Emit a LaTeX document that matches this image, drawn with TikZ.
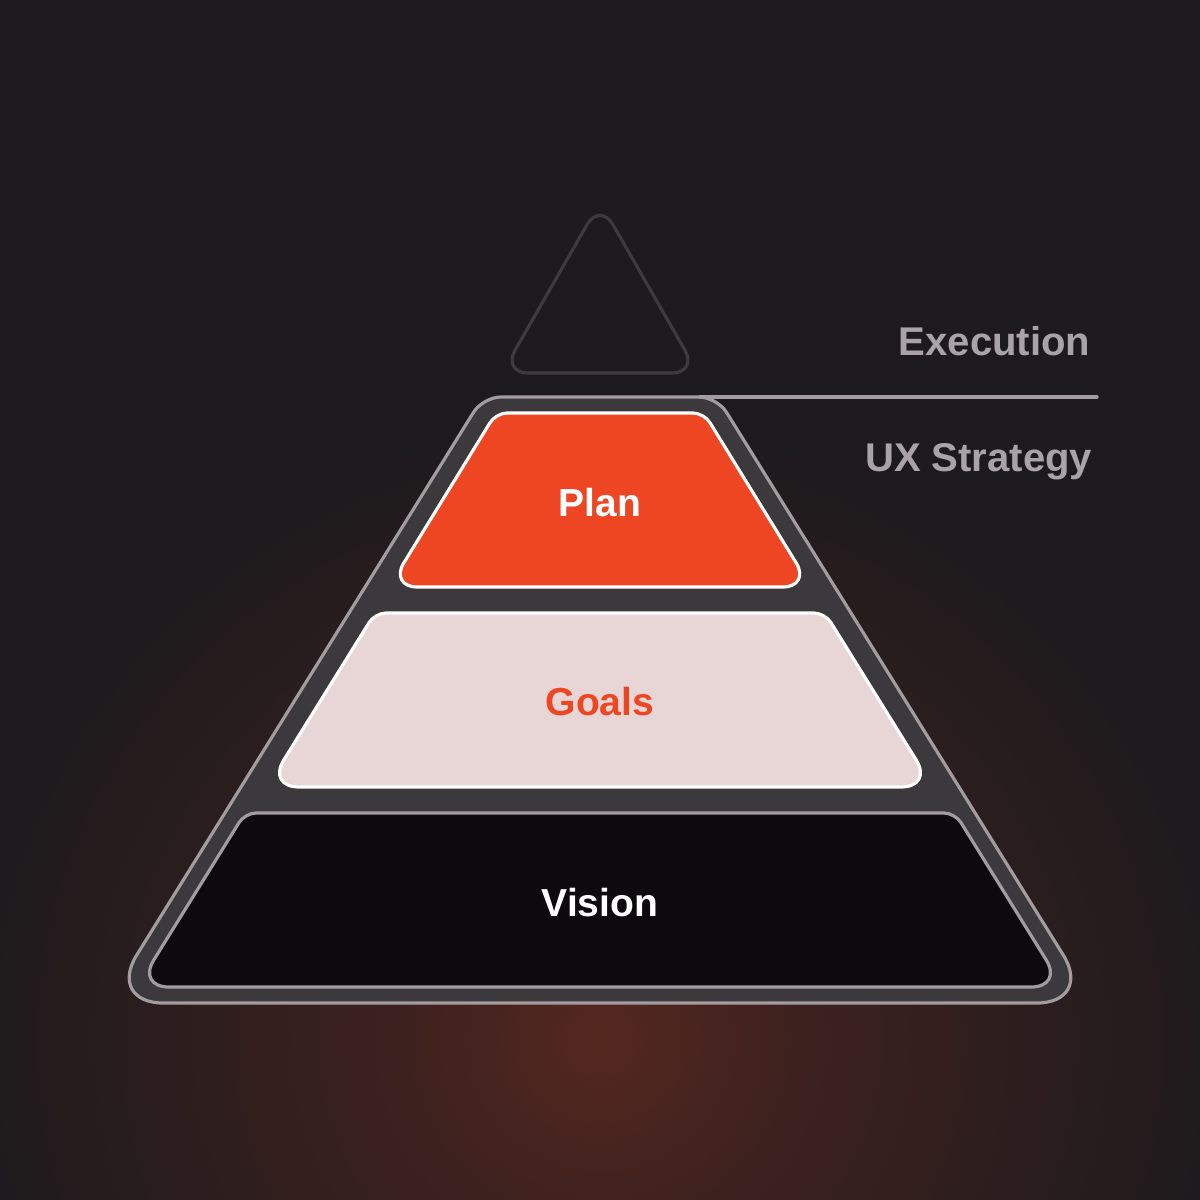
\documentclass[tikz,border=0pt]{standalone}
\usepackage{fontspec}
\usetikzlibrary{calc}
\setmainfont{Liberation Sans}
\definecolor{bgc}{HTML}{1D1A1D}
\definecolor{glowc}{HTML}{55281F}
\definecolor{glowmid}{HTML}{3C211F}
\definecolor{bandc}{HTML}{3B393C}
\definecolor{rimc}{HTML}{A39C9F}
\definecolor{planc}{HTML}{EE4622}
\definecolor{goalc}{HTML}{E8D6D6}
\definecolor{visc}{HTML}{0C0A0C}
\definecolor{labc}{HTML}{A9A2A6}
\definecolor{tric}{HTML}{3C3A3D}
\pgfdeclareradialshading{glow}{\pgfpoint{0bp}{0bp}}{color(0bp)=(glowc); color(8bp)=(glowmid); color(25bp)=(bgc); color(50bp)=(bgc)}
% rounded corner: previous vertex, vertex, next vertex, tangent distance, control distance
\newcommand{\rcorner}[5]{-- ($(#2)!#4!(#1)$) .. controls ($(#2)!#5!(#1)$) and ($(#2)!#5!(#3)$) .. ($(#2)!#4!(#3)$)}
\tikzset{
  layerbox/.style={line width=0.9pt},
  lbl/.style={text=labc, font=\fontsize{11.4pt}{13pt}\selectfont\bfseries, inner sep=0pt},
  boxtext/.style={font=\fontsize{11.1pt}{13pt}\selectfont\bfseries, inner sep=0pt, anchor=base},
}
\begin{document}
\begin{tikzpicture}[x=0.01cm, y=-0.01cm]
\useasboundingbox (0,0) rectangle (1200,1200);
% background
\fill[bgc] (0,0) rectangle (1200,1200);
\begin{scope}
\clip (0,0) rectangle (1200,1200);
\shade[shading=glow] (600,1040) ellipse [x radius=640, y radius=620];
\end{scope}
% small top triangle
\coordinate (t1) at (600,202); \coordinate (t2) at (698,373); \coordinate (t3) at (502,373);
\draw[tric, fill=bgc, line width=0.9pt]
  ($(t1)!0.5!(t2)$) \rcorner{t1}{t2}{t3}{0.26cm}{0.12cm} \rcorner{t2}{t3}{t1}{0.26cm}{0.12cm}
  \rcorner{t3}{t1}{t2}{0.26cm}{0.12cm} -- cycle;
% outer pyramid
\coordinate (oA) at (483,397); \coordinate (oB) at (717,397);
\coordinate (oC) at (1093,1003); \coordinate (oD) at (107,1003);
\draw[rimc, fill=bandc, line width=0.9pt]
  ($(oA)!0.5!(oB)$) \rcorner{oA}{oB}{oC}{0.18cm}{0.08cm} \rcorner{oB}{oC}{oD}{0.56cm}{0.25cm}
  \rcorner{oC}{oD}{oA}{0.56cm}{0.25cm} \rcorner{oD}{oA}{oB}{0.18cm}{0.08cm} -- cycle;
% Plan layer
\coordinate (pA) at (496,413); \coordinate (pB) at (704,413);
\coordinate (pC) at (811,587); \coordinate (pD) at (389,587);
\draw[layerbox, white, fill=planc]
  ($(pA)!0.5!(pB)$) \rcorner{pA}{pB}{pC}{0.11cm}{0.05cm} \rcorner{pB}{pC}{pD}{0.28cm}{0.13cm}
  \rcorner{pC}{pD}{pA}{0.28cm}{0.13cm} \rcorner{pD}{pA}{pB}{0.11cm}{0.05cm} -- cycle;
% Goals layer
\coordinate (gA) at (375,613); \coordinate (gB) at (825,613);
\coordinate (gC) at (933,787); \coordinate (gD) at (267,787);
\draw[layerbox, white, fill=goalc]
  ($(gA)!0.5!(gB)$) \rcorner{gA}{gB}{gC}{0.11cm}{0.05cm} \rcorner{gB}{gC}{gD}{0.32cm}{0.14cm}
  \rcorner{gC}{gD}{gA}{0.32cm}{0.14cm} \rcorner{gD}{gA}{gB}{0.11cm}{0.05cm} -- cycle;
% Vision layer
\coordinate (vA) at (245,813); \coordinate (vB) at (955,813);
\coordinate (vC) at (1063,987); \coordinate (vD) at (137,987);
\draw[layerbox, rimc, fill=visc]
  ($(vA)!0.5!(vB)$) \rcorner{vA}{vB}{vC}{0.11cm}{0.05cm} \rcorner{vB}{vC}{vD}{0.32cm}{0.14cm}
  \rcorner{vC}{vD}{vA}{0.32cm}{0.14cm} \rcorner{vD}{vA}{vB}{0.11cm}{0.05cm} -- cycle;
% divider line
\coordinate (linestart) at (700,397);
\coordinate (lineend) at (1097,397);
\draw[rimc, line width=0.9pt, line cap=round] (linestart) -- (lineend);
% texts
\node[lbl, anchor=base east] (exec) at (1091,355) {Execution};
\node[lbl, anchor=base east] (uxs) at (1093,471) {UX Strategy};
\node[boxtext, text=white] (plan) at (600,516) {Plan};
\node[boxtext, text=planc] (goals) at (600,715) {Goals};
\node[boxtext, text=white] (vision) at (600,916) {Vision};
\end{tikzpicture}
\end{document}
